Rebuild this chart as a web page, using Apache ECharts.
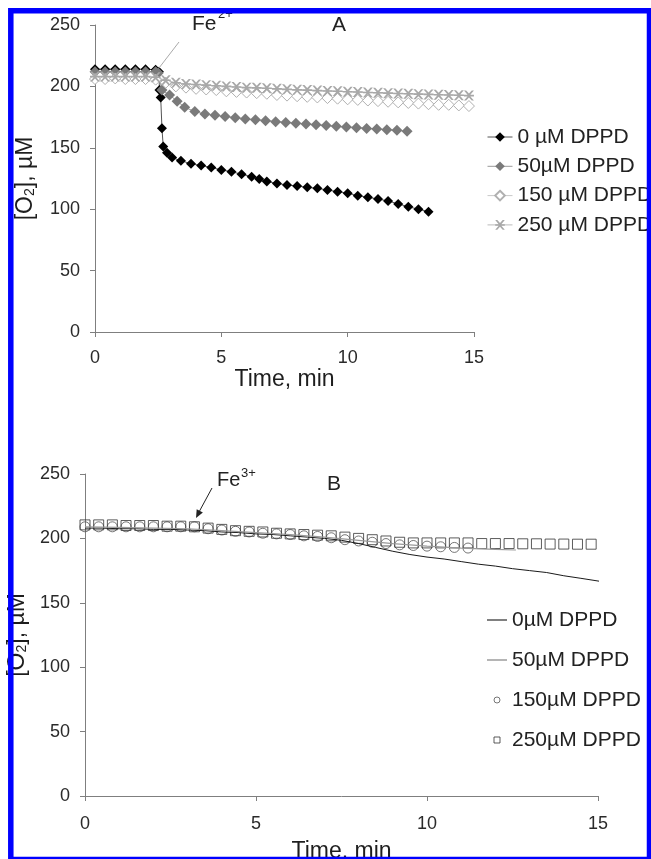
<!DOCTYPE html>
<html><head><meta charset="utf-8">
<script src="https://cdn.jsdelivr.net/npm/echarts@6/dist/echarts.min.js"></script>
<style>html,body{margin:0;padding:0;background:#fff}#c{width:651px;height:859px}</style>
</head><body><div id="c"></div>
<script>
// ---------- Tick labels ----------
const xTickLabels = ['0', '5', '10', '15'];
const yTickLabels = ['0', '50', '100', '150', '200', '250'];

// ---------- Panel A (Fe2+) ----------
const namesA = ['0 µM DPPD', '50µM DPPD', '150 µM DPPD', '250 µM DPPD'];
const tA0 = [0,0.4,0.8,1.2,1.6,2.0,2.4,2.53,2.55,2.6,2.65,2.7,2.85,3.05,3.4,3.8,4.2,4.6,5.0,5.4,5.8,6.2,6.5,6.8,7.2,7.6,8.0,8.4,8.8,9.2,9.6,10.0,10.4,10.8,11.2,11.6,12.0,12.4,12.8,13.2];
const vA0 = [214,214,214,214,214,214,213.5,212,197,191,166,151,146,142,139.5,137,135.5,134,132,130.5,128.5,126.5,124.5,122.5,121,119.7,118.9,117.8,117,115.6,114.3,113,111,109.7,108.3,106.7,104.3,102,100,98];
const tA50 = [0,0.4,0.8,1.2,1.6,2.0,2.4,2.5,2.65,2.95,3.25,3.55,3.95,4.35,4.75,5.15,5.55,5.95,6.35,6.75,7.15,7.55,7.95,8.35,8.75,9.15,9.55,9.95,10.35,10.75,11.15,11.55,11.95,12.35];
const vA50 = [212,212,212,212,212,212,212,211,197,193,188,183,179.5,177.5,176.5,175.5,174.5,173.5,172.8,172,171.3,170.6,170,169.4,168.8,168.2,167.6,167,166.4,165.8,165.3,164.7,164.2,163.5];
const tA150 = [0,0.4,0.8,1.2,1.6,2.0,2.4,2.8,3.2,3.6,4.0,4.4,4.8,5.2,5.6,6.0,6.4,6.8,7.2,7.6,8.0,8.4,8.8,9.2,9.6,10.0,10.4,10.8,11.2,11.6,12.0,12.4,12.8,13.2,13.6,14.0,14.4,14.8];
const vA150 = [206,206,206.5,206,206,206,205.5,203,200,199,198,197.5,197,196,195.5,195,194.5,194,193,192.5,192,191.5,191,190.5,190,189.5,189,188.5,188,187.5,187,186.5,186,185.5,185,185,184.5,184];
const tA250 = tA150;
const vA250 = [208,208,208,208,208,208,207.5,205,203,202,201.5,201,200.5,200,199.5,199,198.8,198.5,198,197.6,197.2,197,196.6,196.3,196,195.7,195.4,195,194.8,194.5,194.2,194,193.7,193.5,193.2,193,192.8,192.5];

// ---------- Panel B (Fe3+) ----------
const namesB = ['0µM DPPD', '50µM DPPD', '150µM DPPD', '250µM DPPD'];
const tB0 = [0,0.5,1,1.5,2,2.5,3,3.5,4,4.5,5,5.5,6,6.5,7,7.5,8,8.5,9,9.5,10,10.5,11,11.5,12,12.5,13,13.5,14,14.5,15.1];
const vB0 = [208,208,207.5,207.5,207,207,206.5,206,205,204.5,203.5,203,202,201,200,198.5,196,193,190,187.5,185.5,184,182,180,178.5,176.5,175,173.5,171,169,166.5];
const tB50 = [0,1,2,3,4,5,6,7,8,9,10,11,12,12.6];
const vB50 = [209,208.5,208,207.5,206,204.5,203,201,198.5,196,194,192.5,191.5,191];
const tB150 = [0,0.4,0.8,1.2,1.6,2.0,2.4,2.8,3.2,3.6,4.0,4.4,4.8,5.2,5.6,6.0,6.4,6.8,7.2,7.6,8.0,8.4,8.8,9.2,9.6,10.0,10.4,10.8,11.2];
const vB150 = [209,209,209,209,209,209,209,209,209,207.5,206.5,205.5,205,204,203.5,203,202,201.5,200.5,199,198,197,196,195,194.5,194,193.5,193,192.5];
const tB250 = [0,0.4,0.8,1.2,1.6,2.0,2.4,2.8,3.2,3.6,4.0,4.4,4.8,5.2,5.6,6.0,6.4,6.8,7.2,7.6,8.0,8.4,8.8,9.2,9.6,10.0,10.4,10.8,11.2,11.6,12.0,12.4,12.8,13.2,13.6,14.0,14.4,14.8];
const vB250 = [210.5,210.5,210.5,210,210,210,209.5,209.5,209,208,207,206,205.5,205,204,203.5,203,202.5,202,201,200,199,198,197,196.5,196.5,196.5,196.5,196.5,196,196,196,195.8,195.8,195.6,195.6,195.5,195.5];

// ---------- Build ----------
const FONT = 'Liberation Sans, Arial, sans-serif';
const pairs = (t, v) => t.map((x, i) => [x, v[i]]);
const xMin = +xTickLabels[0], xMax = +xTickLabels[xTickLabels.length - 1], xInt = xTickLabels[1] - xTickLabels[0];
const yMin = +yTickLabels[0], yMax = +yTickLabels[yTickLabels.length - 1], yInt = yTickLabels[1] - yTickLabels[0];
const AX = '#7f7f7f';

function xAxis(gi, margin, nameGap) {
  return {
    type: 'value', gridIndex: gi, min: xMin, max: xMax, interval: xInt,
    axisLine: { show: true, onZero: false, lineStyle: { color: AX, width: 1 } },
    axisTick: { show: true, length: 5, lineStyle: { color: AX } },
    splitLine: { show: false },
    axisLabel: { fontSize: 18, color: '#2a2a2a', fontFamily: FONT, margin: margin },
    name: 'Time, min', nameLocation: 'middle', nameGap: nameGap,
    nameTextStyle: { fontSize: 23, color: '#1e1e1e', fontFamily: FONT }
  };
}
function yAxis(gi, nameGap) {
  return {
    type: 'value', gridIndex: gi, min: yMin, max: yMax, interval: yInt,
    axisLine: { show: true, lineStyle: { color: AX, width: 1 } },
    axisTick: { show: true, length: 5, lineStyle: { color: AX } },
    splitLine: { show: false },
    axisLabel: { fontSize: 18, color: '#2a2a2a', fontFamily: FONT, margin: 15 },
    name: '[O{s|2}], µM', nameLocation: 'middle', nameGap: nameGap, nameRotate: 90,
    nameTextStyle: { fontSize: 23, color: '#1e1e1e', fontFamily: FONT,
      rich: { s: { fontSize: 14, fontFamily: FONT, color: '#1e1e1e', verticalAlign: 'bottom', lineHeight: 14 } } }
  };
}
const xPath = 'path://M0,0 L2.2,0 L5,3 L7.8,0 L10,0 L6.4,4.2 L10,4.2 L10,5.8 L6.4,5.8 L10,10 L7.8,10 L5,7 L2.2,10 L0,10 L3.6,5.8 L0,5.8 L0,4.2 L3.6,4.2 Z';

const series = [
  { name: namesA[0], type: 'line', xAxisIndex: 0, yAxisIndex: 0, data: pairs(tA0, vA0),
    symbol: 'diamond', symbolSize: 10, showAllSymbol: true, color: '#000',
    itemStyle: { color: '#000' }, lineStyle: { color: '#555', width: 1 } },
  { name: namesA[1], type: 'line', xAxisIndex: 0, yAxisIndex: 0, data: pairs(tA50, vA50),
    symbol: 'diamond', symbolSize: 11, showAllSymbol: true, color: '#7a7a7a',
    itemStyle: { color: '#7a7a7a' }, lineStyle: { color: '#999', width: 1 } },
  { name: namesA[2], type: 'line', xAxisIndex: 0, yAxisIndex: 0, data: pairs(tA150, vA150),
    symbol: 'diamond', symbolSize: 11, showAllSymbol: true, color: '#bdbdbd',
    itemStyle: { color: '#fff', borderColor: '#b0b0b0', borderWidth: 1 }, lineStyle: { color: '#c8c8c8', width: 1 } },
  { name: namesA[3], type: 'line', xAxisIndex: 0, yAxisIndex: 0, data: pairs(tA250, vA250),
    symbol: xPath, symbolSize: 10, showAllSymbol: true, color: '#a8a8a8',
    itemStyle: { color: '#a8a8a8' }, lineStyle: { color: '#bbbbbb', width: 1 } },

  { name: namesB[0], type: 'line', xAxisIndex: 1, yAxisIndex: 1, data: pairs(tB0, vB0),
    symbol: 'none', color: '#1a1a1a', lineStyle: { color: '#1a1a1a', width: 1 } },
  { name: namesB[1], type: 'line', xAxisIndex: 1, yAxisIndex: 1, data: pairs(tB50, vB50),
    symbol: 'none', color: '#9a9a9a', lineStyle: { color: '#9a9a9a', width: 1.2 } },
  { name: namesB[2], type: 'scatter', xAxisIndex: 1, yAxisIndex: 1, data: pairs(tB150, vB150),
    symbol: 'circle', symbolSize: 10,
    itemStyle: { color: 'rgba(255,255,255,0)', borderColor: '#555', borderWidth: 1 } },
  { name: namesB[3], type: 'scatter', xAxisIndex: 1, yAxisIndex: 1, data: pairs(tB250, vB250),
    symbol: 'rect', symbolSize: 10,
    itemStyle: { color: 'rgba(255,255,255,0)', borderColor: '#333', borderWidth: 1 } }
];

const lineIcon = 'path://M0,0 L18,0 L18,1 L0,1 Z';
const sqIcon = 'path://M0,0 L10,0 L10,10 L0,10 Z';

const option = {
  animation: false,
  backgroundColor: '#ffffff',
  grid: [
    { left: 95, top: 25, width: 379, height: 307, containLabel: false, outerBoundsMode: 'none' },
    { left: 85, top: 474, width: 513, height: 322, containLabel: false, outerBoundsMode: 'none' }
  ],
  xAxis: [xAxis(0, 17, 33.5), xAxis(1, 19, 44.5)],
  yAxis: [yAxis(0, 58), yAxis(1, 51)],
  legend: [
    { data: namesA, left: 487, top: 126.5, orient: 'vertical', itemWidth: 25, itemHeight: 12, itemGap: 8.3,
      padding: 0, selectedMode: false,
      lineStyle: { width: 1 },
      textStyle: { fontSize: 21, color: '#222', fontFamily: FONT, lineHeight: 21 } },
    { data: [
        { name: namesB[0], icon: lineIcon },
        { name: namesB[1], icon: lineIcon },
        { name: namesB[2], icon: 'circle' },
        { name: namesB[3], icon: sqIcon }
      ],
      left: 487, top: 609.5, orient: 'vertical', itemWidth: 20, itemHeight: 6, itemGap: 19,
      padding: 0, selectedMode: false,
      itemStyle: { borderWidth: 1 },
      textStyle: { fontSize: 21, color: '#222', fontFamily: FONT, lineHeight: 21 } }
  ],
  graphic: [
    { type: 'line', shape: { x1: 159, y1: 68, x2: 179, y2: 42 }, style: { stroke: '#aaa', lineWidth: 1 }, z: 50 },
    { type: 'text', x: 192, y: 24, style: { text: 'Fe', fontSize: 21, fontFamily: FONT, fill: '#222', verticalAlign: 'middle', align: 'left' }, z: 50 },
    { type: 'text', x: 218, y: 14, style: { text: '2+', fontSize: 13, fontFamily: FONT, fill: '#222', verticalAlign: 'middle', align: 'left' }, z: 50 },
    { type: 'text', x: 332, y: 25, style: { text: 'A', fontSize: 21, fontFamily: FONT, fill: '#222', verticalAlign: 'middle', align: 'left' }, z: 50 },
    { type: 'line', shape: { x1: 212, y1: 488, x2: 199, y2: 512 }, style: { stroke: '#222', lineWidth: 1 }, z: 50 },
    { type: 'polygon', shape: { points: [[196, 518], [202.9, 512.6], [196.7, 509.3]] }, style: { fill: '#222' }, z: 50 },
    { type: 'text', x: 217, y: 480, style: { text: 'Fe', fontSize: 20, fontFamily: FONT, fill: '#222', verticalAlign: 'middle', align: 'left' }, z: 50 },
    { type: 'text', x: 241, y: 473, style: { text: '3+', fontSize: 13, fontFamily: FONT, fill: '#222', verticalAlign: 'middle', align: 'left' }, z: 50 },
    { type: 'text', x: 327, y: 484, style: { text: 'B', fontSize: 21, fontFamily: FONT, fill: '#222', verticalAlign: 'middle', align: 'left' }, z: 50 },
    { type: 'rect', shape: { x: 10.8, y: 10.8, width: 638.7, height: 848.7 }, style: { fill: 'none', stroke: '#0000ff', lineWidth: 5.5 }, z: 100 }
  ],
  series: series
};
const chart = echarts.init(document.getElementById('c'), null, { renderer: 'canvas' });
chart.setOption(option);
</script>
</body></html>
